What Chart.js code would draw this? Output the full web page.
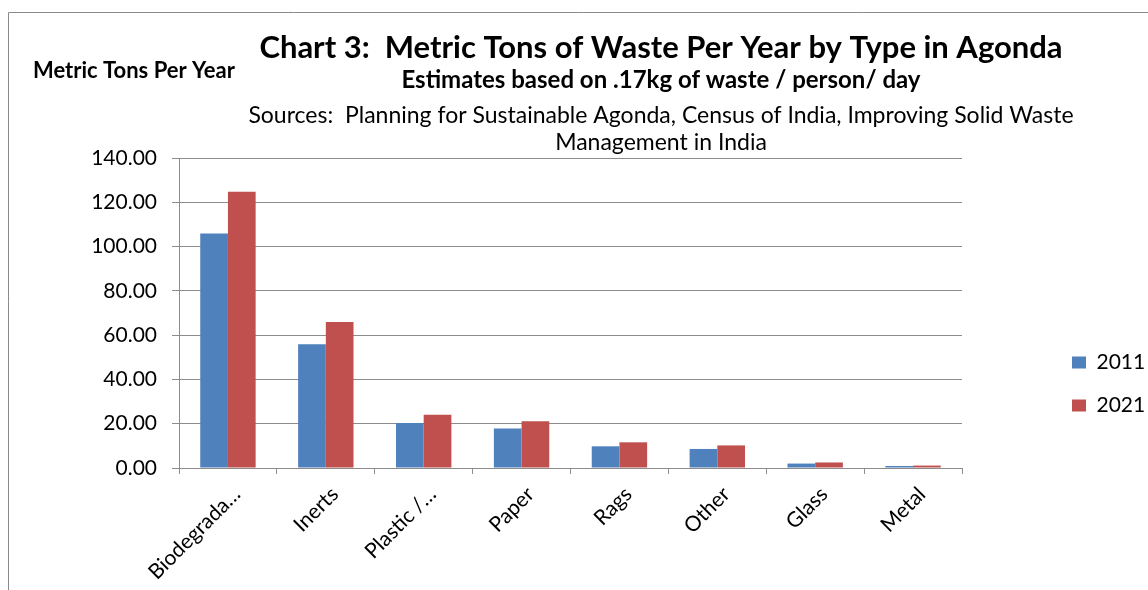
<!DOCTYPE html>
<html>
<head>
<meta charset="utf-8">
<script src="https://cdn.jsdelivr.net/npm/chart.js@4"></script>
<style>
  html, body { margin:0; padding:0; background:#fff; }
  #wrap { position:relative; width:1148px; height:590px; }
</style>
</head>
<body>
<div id="wrap"><canvas id="waste"></canvas></div>
<script>
// waste by type, metric tons per year
const categories = ['Biodegrada…', 'Inerts', 'Plastic /…', 'Paper', 'Rags', 'Other', 'Glass', 'Metal'];
const tons2011 = [105.9, 55.9, 20.3, 17.8, 9.8, 8.6, 2.0, 0.9];
const tons2021 = [124.8, 65.9, 24.1, 21.1, 11.6, 10.2, 2.5, 1.1];
const seriesNames = ['2011', '2021'];
const yTicks = [0, 20, 40, 60, 80, 100, 120, 140];

const FONT = 'Lato';
const GRID = '#8c8c8c';

// header text + frame line, drawn on top of the chart canvas
const headerPlugin = {
  id: 'header',
  afterDraw(chart){
    const ctx = chart.ctx;
    ctx.save();
    ctx.strokeStyle = '#8a8a8a';
    ctx.lineWidth = 1;
    ctx.beginPath();
    ctx.moveTo(8.5, 590);
    ctx.lineTo(8.5, 12.5);
    ctx.lineTo(1148, 12.5);
    ctx.stroke();

    ctx.fillStyle = '#000';
    ctx.textBaseline = 'alphabetic';
    ctx.textAlign = 'left';
    ctx.font = `bold 22px ${FONT}`;
    ctx.fillText('Metric Tons Per Year', 33, 78);

    ctx.textAlign = 'center';
    const cx = 661;
    ctx.font = `bold 31px ${FONT}`;
    ctx.fillText('Chart 3:  Metric Tons of Waste Per Year by Type in Agonda', cx, 58);
    ctx.font = `bold 24px ${FONT}`;
    ctx.fillText('Estimates based on .17kg of waste / person/ day', cx, 88);
    ctx.font = `23px ${FONT}`;
    ctx.fillText('Sources:  Planning for Sustainable Agonda, Census of India, Improving Solid Waste', cx, 123);
    ctx.fillText('Management in India', cx, 150);
    ctx.restore();
  }
};

new Chart(document.getElementById('waste'), {
  type: 'bar',
  data: {
    labels: categories,
    datasets: [
      { label: seriesNames[0], data: tons2011, backgroundColor: '#4F81BD' },
      { label: seriesNames[1], data: tons2021, backgroundColor: '#C0504D' }
    ]
  },
  options: {
    responsive: true,
    maintainAspectRatio: false,
    animation: false,
    datasets: { bar: { categoryPercentage: 0.566, barPercentage: 1.0 } },
    layout: { padding: { top: 158, left: 0, right: 0, bottom: 0 } },
    plugins: {
      tooltip: { enabled: false },
      legend: {
        position: 'right',
        align: 'start',
        fullSize: false,
        maxWidth: 98,
        title: { display: true, text: '', font: { size: 1, lineHeight: 1 }, padding: { top: 171, bottom: 0 } },
        labels: { color: '#000', font: { family: FONT, size: 21 }, boxWidth: 14, boxHeight: 12, padding: 22 }
      }
    },
    scales: {
      x: {
        grid: { drawOnChartArea: false, offset: true, color: GRID, tickLength: 6 },
        border: { color: GRID },
        ticks: { color: '#000', font: { family: FONT, size: 21 }, minRotation: 45, maxRotation: 45, autoSkip: false, padding: 8, labelOffset: 9 },
        afterFit(s){ s.height = 122; }
      },
      y: {
        min: 0, max: 140,
        afterBuildTicks(s){ s.ticks = yTicks.map(v => ({ value: v })); },
        grid: { color: GRID, tickLength: 7 },
        border: { color: GRID },
        ticks: { color: '#000', font: { family: FONT, size: 21 }, padding: 15, callback: v => v.toFixed(2) },
        afterFit(s){ s.width = 179; }
      },
      gap: {
        position: 'right',
        display: true,
        grid: { display: false },
        border: { display: false },
        ticks: { display: false },
        afterFit(s){ s.width = 88; }
      }
    }
  },
  plugins: [headerPlugin]
});
</script>
</body>
</html>
